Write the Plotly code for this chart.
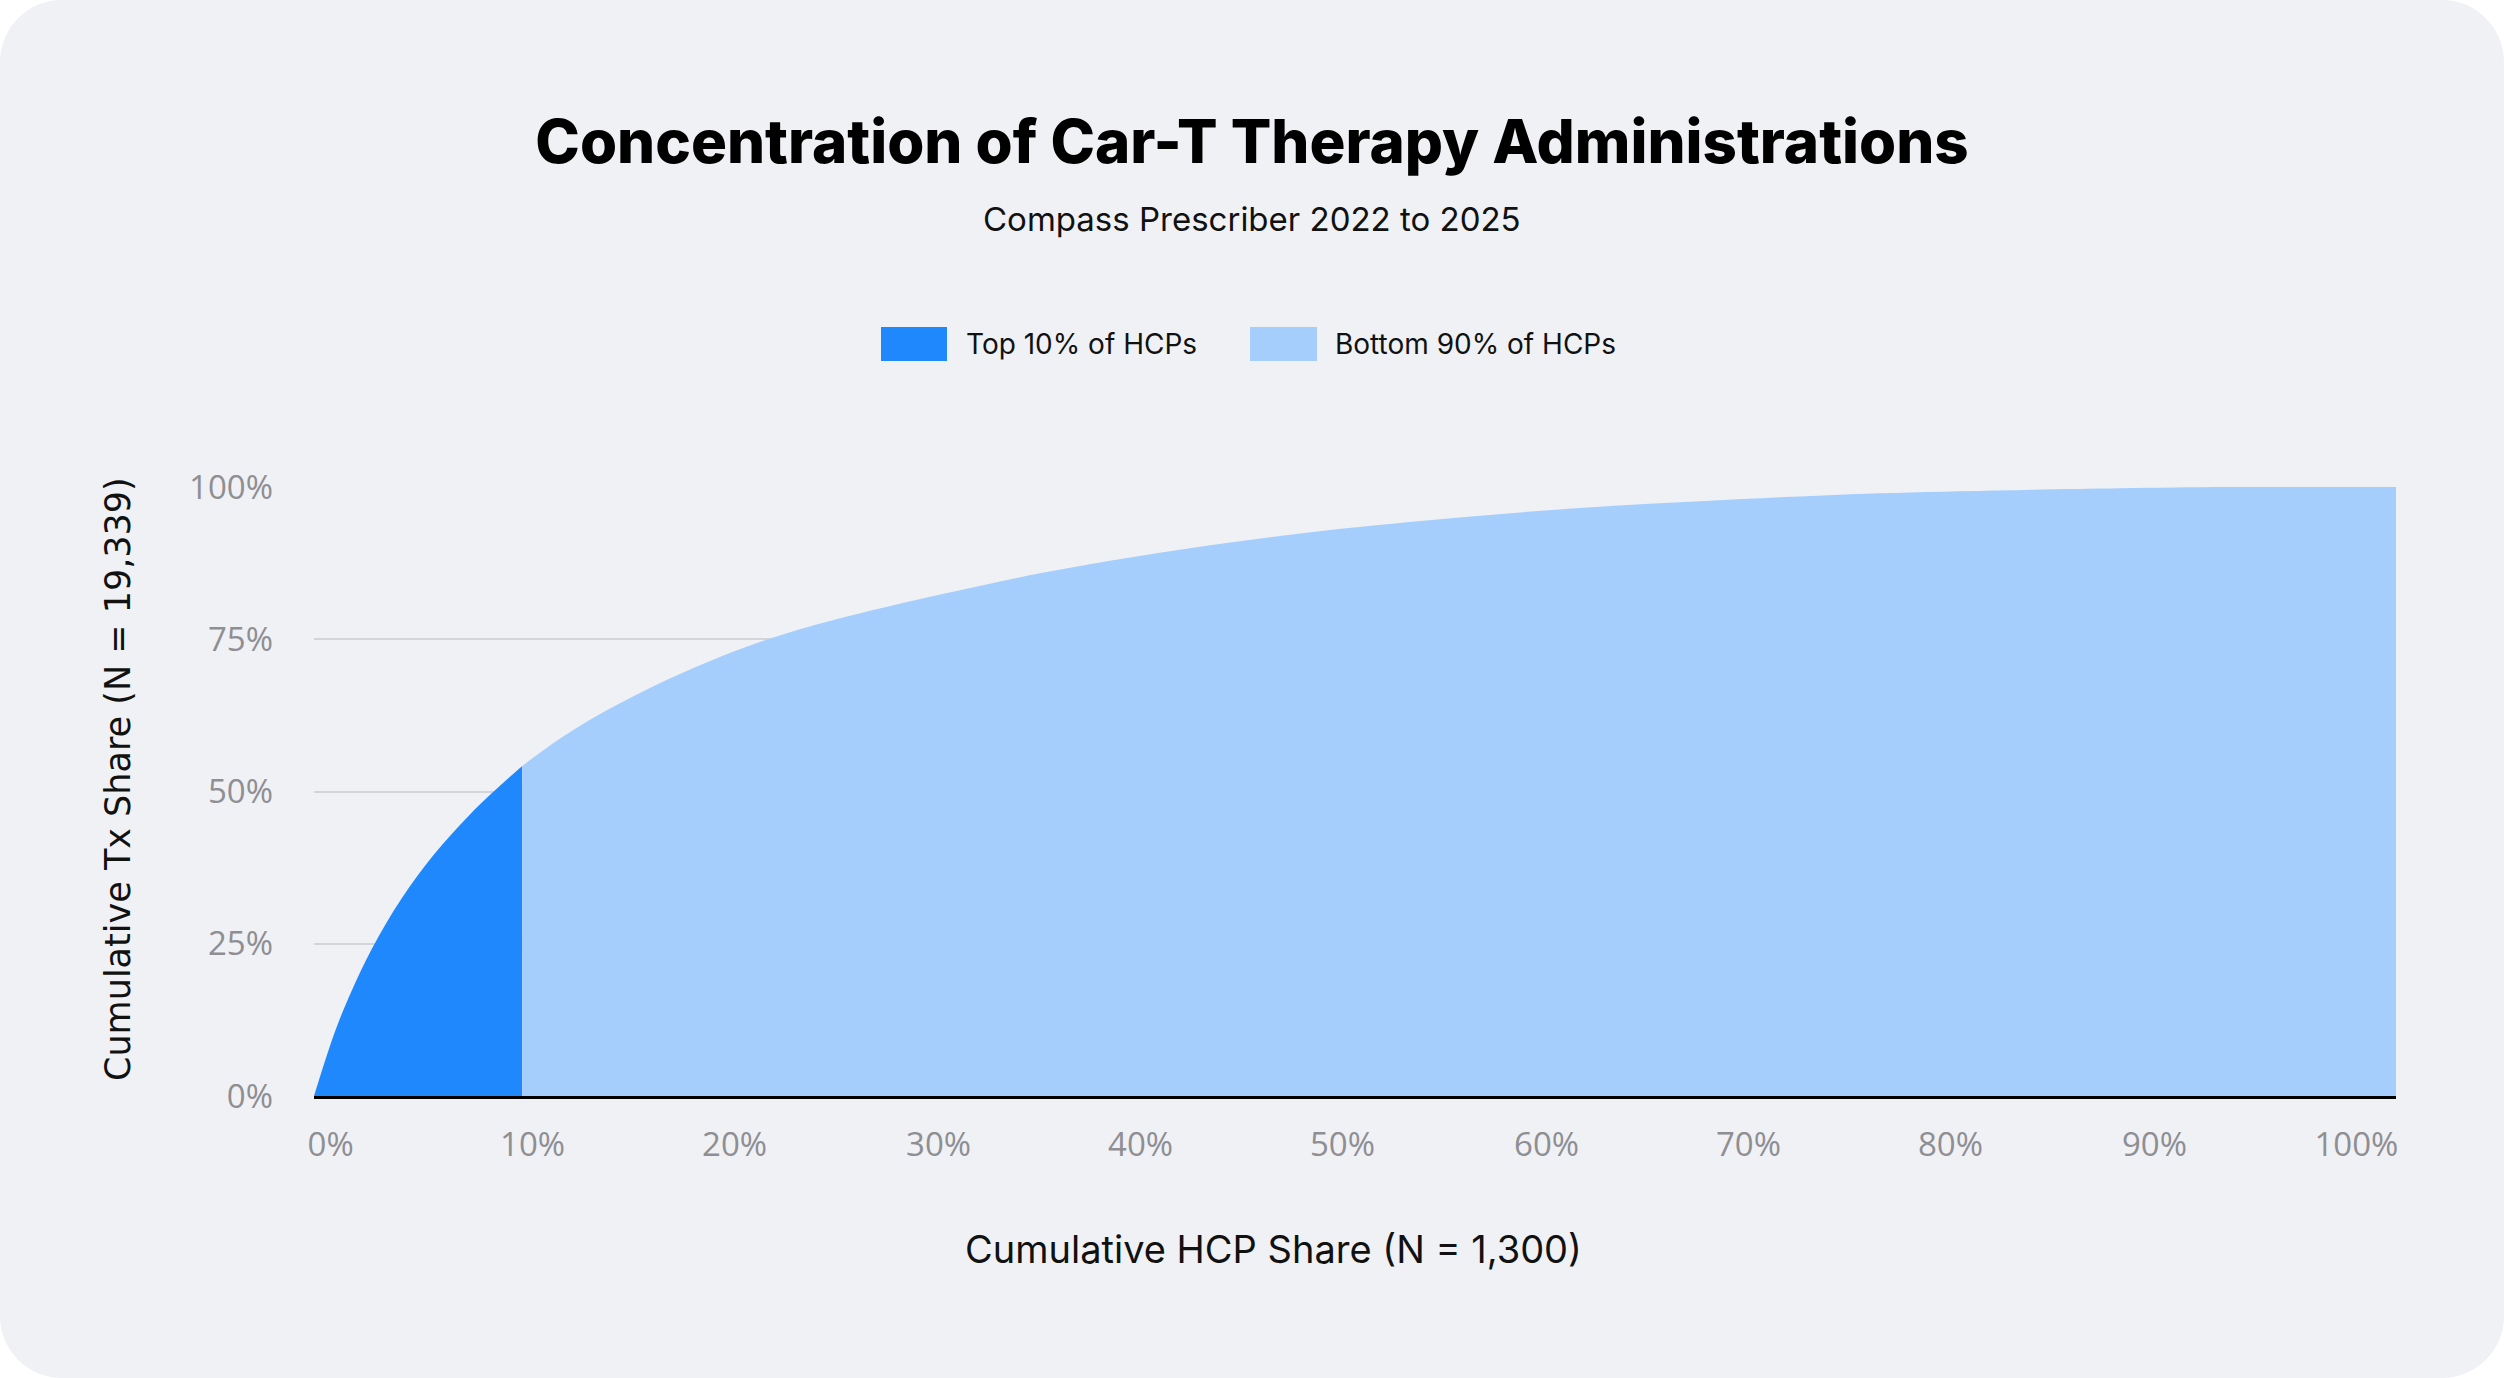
import plotly.graph_objects as go

# cumulative share curve (x = % of HCPs, y = % of Tx)
top_x = [0, 1.0, 1.8, 2.8, 4.2, 5.8, 7.4, 8.6, 10]
top_y = [0, 10.5, 17.2, 24.3, 32.4, 39.8, 45.9, 49.9, 54.2]
bottom_x = [10, 12, 14, 16.5, 19, 21.8, 25, 30.3, 35, 39.5, 44, 48.7, 55, 61, 66.8, 73, 79, 86.7, 92, 100]
bottom_y = [54.2, 59.1, 63.2, 67.6, 71.4, 75.0, 78.2, 82.5, 85.9, 88.6, 90.9, 92.9, 95.0, 96.6, 97.7, 98.7, 99.3, 99.8, 100, 100]

series_names = ["Top 10% of HCPs", "Bottom 90% of HCPs"]
y_ticks = [0, 25, 50, 75, 100]
y_labels = ["0%", "25%", "50%", "75%", "100%"]
# x labels sit slightly off the true positions in the original
x_tick_pos = [0.8, 10.5, 20.2, 30.0, 39.7, 49.4, 59.2, 68.9, 78.6, 88.4, 98.1]
x_labels = ["0%", "10%", "20%", "30%", "40%", "50%", "60%", "70%", "80%", "90%", "100%"]

W, H = 2504, 1378
L, R, T, B = 314, 2396, 487, 1096   # plot area in pixels
PW, PH = R - L, B - T

DARK = "#1f88fd"
LIGHT = "#a6cefc"
BG = "#f0f1f5"
TICK = "#8e8e93"


def paper(x, y):
    return (x - L) / PW, (B - y) / PH


def card_path(r=62):
    k = 0.4477 * r
    segs = [
        ("M", [(r, 0)]),
        ("L", [(W - r, 0)]),
        ("C", [(W - k, 0), (W, k), (W, r)]),
        ("L", [(W, H - r)]),
        ("C", [(W, H - k), (W - k, H), (W - r, H)]),
        ("L", [(r, H)]),
        ("C", [(k, H), (0, H - k), (0, H - r)]),
        ("L", [(0, r)]),
        ("C", [(0, k), (k, 0), (r, 0)]),
    ]
    out = []
    for cmd, pts in segs:
        out.append(cmd + " ".join("%.5f,%.5f" % paper(*p) for p in pts))
    return " ".join(out) + " Z"


fig = go.Figure()

fig.add_trace(go.Scatter(
    x=top_x, y=top_y, mode="lines", fill="tozeroy",
    line=dict(width=0, shape="spline", smoothing=1.0),
    fillcolor=DARK, name=series_names[0], hoverinfo="skip",
))
fig.add_trace(go.Scatter(
    x=bottom_x, y=bottom_y, mode="lines", fill="tozeroy",
    line=dict(width=0, shape="spline", smoothing=1.0),
    fillcolor=LIGHT, name=series_names[1], hoverinfo="skip",
))

shapes = [dict(type="path", xref="paper", yref="paper", path=card_path(),
               fillcolor=BG, line=dict(width=0), layer="below")]

# hand-made legend swatches
legend_items = [
    (series_names[0], DARK, 881, 947, 964),
    (series_names[1], LIGHT, 1250, 1317, 1333),
]
annotations = []
for name, col, sx0, sx1, tx in legend_items:
    x0, y0 = paper(sx0, 361)
    x1, y1 = paper(sx1, 327)
    shapes.append(dict(type="rect", xref="paper", yref="paper",
                       x0=x0, y0=y0, x1=x1, y1=y1,
                       fillcolor=col, line=dict(width=0)))
    ax, ay = paper(tx, 344)
    annotations.append(dict(text=name, x=ax, y=ay, xref="paper", yref="paper",
                            xanchor="left", yanchor="middle", showarrow=False,
                            font=dict(family="Inter, sans-serif", size=28, color="#111")))

sx, sy = paper(W / 2, 219)
annotations.append(dict(text="Compass Prescriber 2022 to 2025", x=sx, y=sy,
                        xref="paper", yref="paper", showarrow=False,
                        xanchor="center", yanchor="middle",
                        font=dict(family="Inter, sans-serif", size=33, color="#111")))

tx_, ty_ = paper(1273, 1249)
annotations.append(dict(text="Cumulative HCP Share (N = 1,300)", x=tx_, y=ty_,
                        xref="paper", yref="paper", showarrow=False,
                        xanchor="center", yanchor="middle",
                        font=dict(family="Inter, sans-serif", size=38, color="#111")))

yx_, yy_ = paper(118, 779)
annotations.append(dict(text="Cumulative Tx Share (N = 19,339)", x=yx_, y=yy_,
                        xref="paper", yref="paper", showarrow=False, textangle=-90,
                        xanchor="center", yanchor="middle",
                        font=dict(family="DejaVu Sans, sans-serif", size=35, color="#111")))

fig.update_layout(
    width=W, height=H,
    margin=dict(l=L, r=W - R, t=T, b=H - B, pad=0),
    paper_bgcolor="white",
    plot_bgcolor="rgba(0,0,0,0)",
    showlegend=False,
    title=dict(text="Concentration of Car-T Therapy Administrations",
               x=0.5, xref="container", xanchor="center",
               y=1 - 142 / H, yref="container", yanchor="middle",
               font=dict(family="Inter, sans-serif", size=60, color="#000", weight=800)),
    shapes=shapes,
    annotations=annotations,
)

fig.update_xaxes(
    range=[0, 100], showgrid=False, zeroline=False,
    showline=True, linecolor="#000", linewidth=3,
    tickvals=x_tick_pos, ticktext=x_labels, ticks="",
    ticklabelstandoff=17,
    tickfont=dict(family="Open Sans, sans-serif", size=33, color=TICK),
)
fig.update_yaxes(
    range=[0, 100], showgrid=True, gridcolor="#d4d5d9", gridwidth=2,
    zeroline=False, showline=False,
    tickvals=y_ticks, ticktext=y_labels, ticks="",
    ticklabelstandoff=40,
    tickfont=dict(family="Open Sans, sans-serif", size=33, color=TICK),
)

fig.write_html("out.html", config={"displayModeBar": False},
               post_script="document.body.style.margin = '0';")
